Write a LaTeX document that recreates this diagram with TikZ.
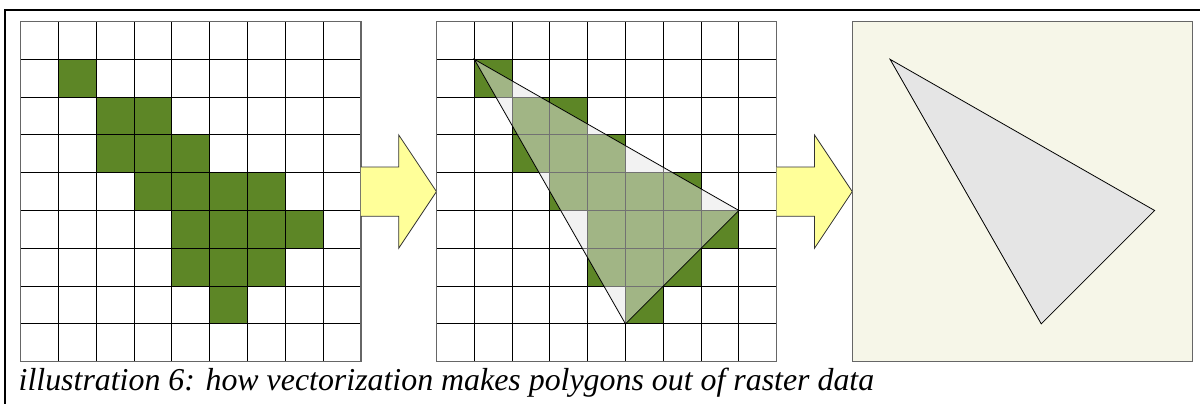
\documentclass[tikz,border=0pt]{standalone}
\usepackage{fontspec}
\setmainfont{Liberation Serif}
\usepackage{tikz}
\usetikzlibrary{positioning}
\usepackage{xcolor}
\definecolor{rastergreen}{RGB}{93,134,38}
\definecolor{vectorbg}{RGB}{246,246,232}
\definecolor{polyfill}{RGB}{229,229,229}
\definecolor{arrowyellow}{RGB}{255,255,153}

\begin{document}
\begin{tikzpicture}[
    gridline/.style={line width=0.75pt, draw=black},
    gridborder/.style={line width=1pt, draw=gray!80!black},
    rastercell/.style={fill=rastergreen},
    polygonshape/.style={draw=black, line width=0.6pt, fill=polyfill},
    stepArrow/.style={fill=arrowyellow, draw=black!80, line width=0.6pt},
    figcaption/.style={inner sep=0pt, anchor=base west, font=\rmfamily\itshape\fontsize{24}{28}\selectfont}
]
    \useasboundingbox (-0.548,-1.093) rectangle (31.2,9.569);

    % Frame (top and left rule only)
    \draw[line width=1.5pt] (-0.415,-1.2) -- (-0.415,9.30) -- (31.3,9.30);

    % =========================================================
    % RASTER: grid with green cells
    % =========================================================
    \begin{scope}[xshift=0cm]
        \foreach \x/\y in {1/7, 2/6,3/6, 2/5,3/5,4/5, 3/4,4/4,5/4,6/4,
                           4/3,5/3,6/3,7/3, 4/2,5/2,6/2, 5/1}
            \fill[rastercell] (\x,\y) rectangle ++(1,1);
        \draw[gridline] (0,0) grid (9,9);
        \draw[gridborder] (0,0) rectangle (9,9);
    \end{scope}

    % Arrow 1
    \filldraw[stepArrow] (9,3.85) -- (10,3.85) -- (10,3) -- (11,4.5) -- (10,6) -- (10,5.15) -- (9,5.15);

    % =========================================================
    % RASTER + POLYGON overlay
    % =========================================================
    \begin{scope}[xshift=11cm]
        \foreach \x/\y in {1/7, 2/6,3/6, 2/5,3/5,4/5, 3/4,4/4,5/4,6/4,
                           4/3,5/3,6/3,7/3, 4/2,5/2,6/2, 5/1}
            \fill[rastercell] (\x,\y) rectangle ++(1,1);
        \draw[gridline] (0,0) grid (9,9);
        \draw[gridborder] (0,0) rectangle (9,9);

        % Traced polygon
        \coordinate (a1) at (1,8);
        \coordinate (b1) at (8,4);
        \coordinate (c1) at (5,1);
        \filldraw[polygonshape, fill opacity=0.5] (a1) -- (b1) -- (c1) -- cycle;
    \end{scope}

    % Arrow 2
    \filldraw[stepArrow] (20,3.85) -- (21,3.85) -- (21,3) -- (22,4.5) -- (21,6) -- (21,5.15) -- (20,5.15);

    % =========================================================
    % VECTOR: polygon only
    % =========================================================
    \begin{scope}[xshift=22cm]
        \fill[vectorbg] (0,0) rectangle (9,9);
        \draw[gridborder] (0,0) rectangle (9,9);

        \coordinate (a2) at (1,8);
        \coordinate (b2) at (8,4);
        \coordinate (c2) at (5,1);
        \filldraw[polygonshape] (a2) -- (b2) -- (c2) -- cycle;
    \end{scope}

    % Caption
    \node[figcaption] (caption) at (-0.06,-0.75) {illustration 6: how vectorization makes polygons out of raster data};
\end{tikzpicture}
\end{document}
